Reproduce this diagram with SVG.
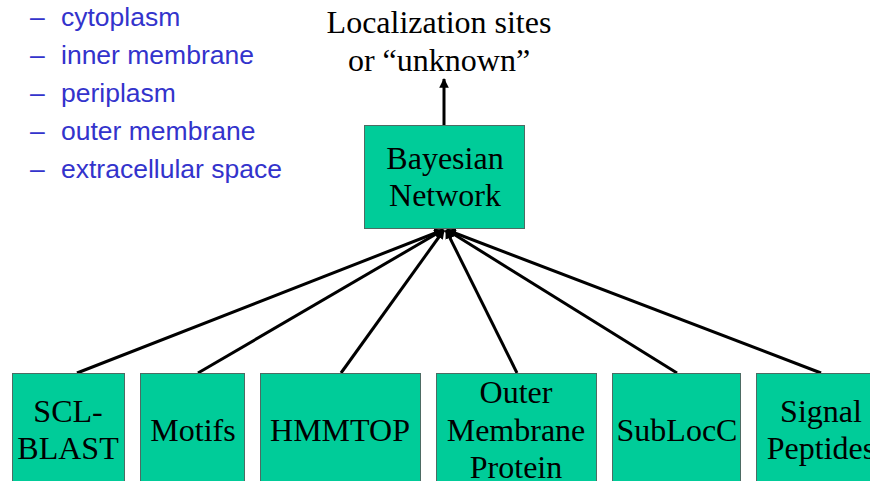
<svg xmlns="http://www.w3.org/2000/svg" width="870" height="481" viewBox="0 0 870 481">
<defs>
<marker id="ah" viewBox="0 0 10 10" refX="9" refY="5" markerWidth="3.2" markerHeight="3.2" orient="auto" markerUnits="strokeWidth">
<path d="M0,0 L10,5 L0,10 z" fill="#000"/>
</marker>
</defs>
<style>
.box{fill:#00CC99;stroke:#4d6b63;stroke-width:1}
.t{font-family:"Liberation Serif","Times New Roman",serif;font-size:32px;fill:#000;text-anchor:middle}
.b{font-family:"Liberation Sans",Arial,sans-serif;font-size:26.5px;fill:#3333CC}
.c{stroke:#000;stroke-width:3;fill:none;marker-end:url(#ah)}
</style>
<rect width="870" height="481" fill="#fff"/>
<g id="list">
<text class="b" x="30" y="26">–</text><text class="b" x="61" y="26">cytoplasm</text>
<text class="b" x="30" y="64">–</text><text class="b" x="61" y="64">inner membrane</text>
<text class="b" x="30" y="102">–</text><text class="b" x="61" y="102">periplasm</text>
<text class="b" x="30" y="140">–</text><text class="b" x="61" y="140">outer membrane</text>
<text class="b" x="30" y="178">–</text><text class="b" x="61" y="178">extracellular space</text>
</g>
<g id="output">
<text class="t" x="439" y="33">Localization sites</text>
<text class="t" x="439" y="71">or “unknown”</text>
</g>
<g id="connectors">
<line class="c" x1="444" y1="125" x2="444" y2="79"/>
<line class="c" x1="77" y1="373" x2="443" y2="230"/>
<line class="c" x1="198" y1="373" x2="443" y2="230"/>
<line class="c" x1="341" y1="373" x2="444" y2="230"/>
<line class="c" x1="517" y1="373" x2="446" y2="230"/>
<line class="c" x1="677" y1="373" x2="447" y2="230"/>
<line class="c" x1="821" y1="373" x2="447" y2="230"/>
</g>
<g id="bayes">
<rect class="box" x="364.5" y="125.5" width="160" height="103"/>
<text class="t" x="445" y="169">Bayesian</text>
<text class="t" x="445" y="206">Network</text>
</g>
<g id="scl">
<rect class="box" x="12.5" y="373.5" width="112" height="120"/>
<text class="t" x="68" y="422">SCL-</text>
<text class="t" x="68" y="459">BLAST</text>
</g>
<g id="motifs">
<rect class="box" x="140.5" y="373.5" width="104" height="120"/>
<text class="t" x="193" y="441">Motifs</text>
</g>
<g id="hmmtop">
<rect class="box" x="260.5" y="373.5" width="160" height="120"/>
<text class="t" x="340" y="441">HMMTOP</text>
</g>
<g id="omp">
<rect class="box" x="436.5" y="373.5" width="160" height="120"/>
<text class="t" x="516" y="403">Outer</text>
<text class="t" x="516" y="441">Membrane</text>
<text class="t" x="516" y="478">Protein</text>
</g>
<g id="subloc">
<rect class="box" x="612.5" y="373.5" width="128" height="120"/>
<text class="t" x="677" y="441">SubLocC</text>
</g>
<g id="signal">
<rect class="box" x="756.5" y="373.5" width="130" height="120"/>
<text class="t" x="821" y="422">Signal</text>
<text class="t" x="821" y="459">Peptides</text>
</g>
</svg>
